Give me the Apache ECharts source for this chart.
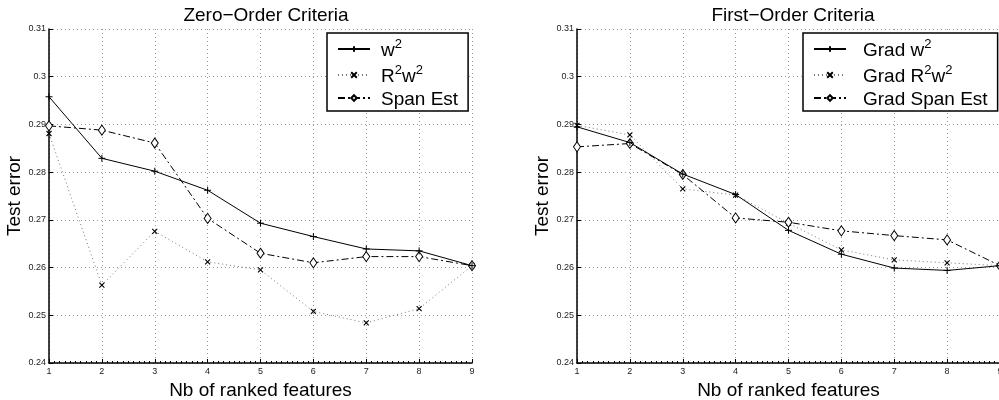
<!DOCTYPE html>
<html><head><meta charset="utf-8">
<script src="https://cdn.jsdelivr.net/npm/echarts@6/dist/echarts.min.js"></script>
<style>html,body{margin:0;padding:0;background:#fff}#c{width:999px;height:400px}</style>
</head><body><div id="c"></div>
<script>
const features = [1, 2, 3, 4, 5, 6, 7, 8, 9];
const yTicks = [0.24, 0.25, 0.26, 0.27, 0.28, 0.29, 0.30, 0.31];

const zeroW2      = [0.2958, 0.2829, 0.2802, 0.2762, 0.2693, 0.2665, 0.2639, 0.2635, 0.2604];
const zeroR2W2    = [0.2881, 0.2563, 0.2676, 0.2612, 0.2595, 0.2508, 0.2484, 0.2514, 0.2604];
const zeroSpan    = [0.2897, 0.2888, 0.2861, 0.2703, 0.2630, 0.2610, 0.2623, 0.2623, 0.2604];

const gradW2      = [0.2895, 0.2862, 0.2796, 0.2753, 0.2678, 0.2628, 0.2599, 0.2594, 0.2604];
const gradR2W2    = [0.2898, 0.2878, 0.2765, 0.2752, 0.2693, 0.2637, 0.2616, 0.2610, 0.2604];
const gradSpan    = [0.2853, 0.2860, 0.2795, 0.2704, 0.2695, 0.2677, 0.2667, 0.2658, 0.2604];

const titles = ['Zero\u2212Order Criteria', 'First\u2212Order Criteria'];
const xName = 'Nb of ranked features';
const yName = 'Test error';

const FONT = '"Liberation Sans", Arial, Helvetica, sans-serif';
const PLUS = 'path://M0,5L10,5M5,0L5,10';
const CROSS = 'path://M0,0L10,10M0,10L10,0';
const DASHDOT = [7, 3, 2, 3];

const legendLabels = {
  'w2': '{g|}{n|w}{s|2}',
  'R2w2': '{g|}{n|R}{s|2}{n|w}{s|2}',
  'Span Est': '{g|}{n|Span Est}',
  'Grad w2': '{g|}{n|Grad w}{s|2}',
  'Grad R2w2': '{g|}{n|Grad R}{s|2}{n|w}{s|2}',
  'Grad Span Est': '{g|}{n|Grad Span Est}'
};

function pairs(ys) { return features.map((x, i) => [x, ys[i]]); }

function mkSeries(name, ys, kind, gi) {
  const base = {
    name, type: 'line', xAxisIndex: gi, yAxisIndex: gi,
    data: pairs(ys), showSymbol: true, animation: false,
    z: kind === 'span' ? 3 : (kind === 'solid' ? 4 : 2)
  };
  if (kind === 'solid') {
    base.symbol = PLUS; base.symbolSize = 7;
    base.lineStyle = { color: '#000', width: 1, type: 'solid' };
    base.itemStyle = { color: '#000', borderColor: '#000', borderWidth: 1 };
  } else if (kind === 'dot') {
    base.symbol = CROSS; base.symbolSize = 5;
    base.lineStyle = { color: '#777', width: 1, type: [1, 3] };
    base.itemStyle = { color: '#000', borderColor: '#000', borderWidth: 1.1 };
  } else {
    base.symbol = 'diamond'; base.symbolSize = [7, 10];
    base.lineStyle = { color: '#000', width: 1, type: DASHDOT };
    base.itemStyle = { color: '#fff', borderColor: '#000', borderWidth: 1 };
  }
  return base;
}

const grids = [
  { left: 49, top: 29, width: 423, height: 334, outerBoundsMode: 'none', containLabel: false },
  { left: 577, top: 29, width: 423, height: 334, outerBoundsMode: 'none', containLabel: false }
];

function xAxisFor(gi) {
  return {
    gridIndex: gi, type: 'value', min: 1, max: 9, interval: 1,
    name: xName, nameLocation: 'middle', nameGap: 12,
    nameTextStyle: { fontFamily: FONT, fontSize: 19, color: '#000', verticalAlign: 'top' },
    axisLine: { lineStyle: { color: '#000', width: 1.5 } },
    axisTick: { inside: true, length: 4, lineStyle: { color: '#000' } },
    minorTick: { show: true, splitNumber: 10, length: 2, lineStyle: { color: '#000' } },
    axisLabel: { fontFamily: FONT, fontSize: 9, color: '#222', margin: 4,
      formatter: v => String(v) },
    splitLine: { show: true, lineStyle: { color: '#999', type: [1, 3], width: 1 } }
  };
}
function yAxisFor(gi) {
  return {
    gridIndex: gi, type: 'value', min: yTicks[0], max: yTicks[yTicks.length - 1], interval: 0.01,
    name: yName, nameLocation: 'middle', nameGap: 22,
    nameTextStyle: { fontFamily: FONT, fontSize: 19, color: '#000' },
    axisLine: { show: true, lineStyle: { color: '#000', width: 1.5 } },
    axisTick: { show: true, inside: true, length: 4, lineStyle: { color: '#000' } },
    axisLabel: { fontFamily: FONT, fontSize: 9, color: '#222', margin: 3,
      formatter: v => String(parseFloat(v.toFixed(2))) },
    splitLine: { show: true, lineStyle: { color: '#999', type: [1, 3], width: 1 } }
  };
}

function legendFor(names, left, gapW) {
  return {
    orient: 'vertical', left: left, top: 33,
    data: names,
    backgroundColor: '#fff', borderColor: '#000', borderWidth: 1.5,
    padding: [5, 10, 2, 10], itemGap: 4, itemWidth: 32, itemHeight: 7,
    formatter: n => legendLabels[n],
    textStyle: {
      fontFamily: FONT, color: '#000',
      rich: {
        g: { width: gapW, lineHeight: 22 },
        n: { fontFamily: FONT, fontSize: 19, lineHeight: 22, verticalAlign: 'bottom', color: '#000' },
        s: { fontFamily: FONT, fontSize: 13, lineHeight: 13, verticalAlign: 'top', color: '#000' }
      }
    }
  };
}

const option = {
  backgroundColor: '#fff',
  animation: false,
  title: [
    { text: titles[0], left: 261, top: 1, textAlign: 'center',
      textStyle: { fontFamily: FONT, fontSize: 19, fontWeight: 'normal', color: '#000' } },
    { text: titles[1], left: 788, top: 1, textAlign: 'center',
      textStyle: { fontFamily: FONT, fontSize: 19, fontWeight: 'normal', color: '#000' } }
  ],
  grid: grids,
  xAxis: [xAxisFor(0), xAxisFor(1)],
  yAxis: [yAxisFor(0), yAxisFor(1)],
  legend: [
    legendFor(['w2', 'R2w2', 'Span Est'], 327, 6),
    legendFor(['Grad w2', 'Grad R2w2', 'Grad Span Est'], 803, 12)
  ],
  series: [
    mkSeries('w2', zeroW2, 'solid', 0),
    mkSeries('R2w2', zeroR2W2, 'dot', 0),
    mkSeries('Span Est', zeroSpan, 'span', 0),
    mkSeries('Grad w2', gradW2, 'solid', 1),
    mkSeries('Grad R2w2', gradR2W2, 'dot', 1),
    mkSeries('Grad Span Est', gradSpan, 'span', 1)
  ]
};

const chart = echarts.init(document.getElementById('c'), null, { renderer: 'canvas' });
chart.setOption(option);
</script>
</body></html>
